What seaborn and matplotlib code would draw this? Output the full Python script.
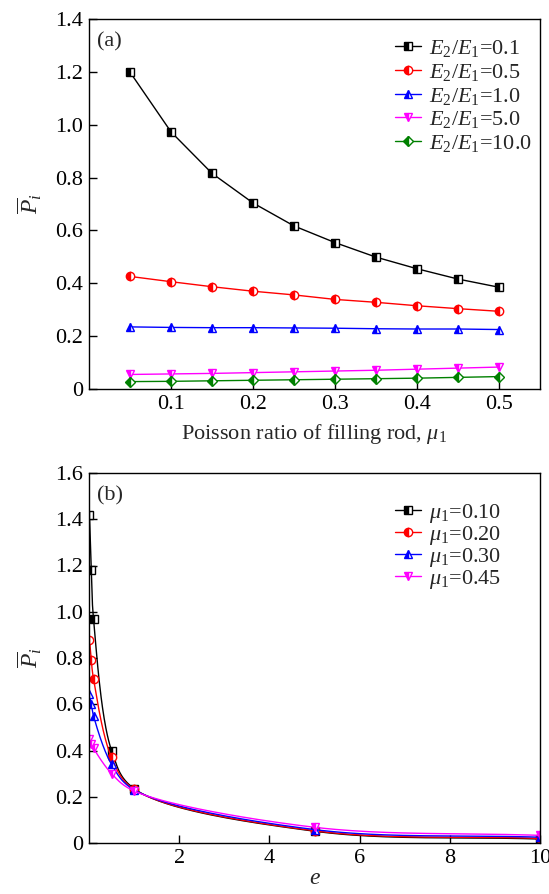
import numpy as np
import matplotlib
matplotlib.use("Agg")
import matplotlib.pyplot as plt
from matplotlib.lines import Line2D
from matplotlib.ticker import FuncFormatter
import seaborn as sns

# ---- data: panel (a), pressure vs Poisson ratio of the filling rod ----
mu1 = [0.05, 0.10, 0.15, 0.20, 0.25, 0.30, 0.35, 0.40, 0.45, 0.50]
p_e01 = [1.199, 0.973, 0.816, 0.704, 0.617, 0.554, 0.499, 0.455, 0.416, 0.385]
p_e05 = [0.426, 0.406, 0.387, 0.370, 0.356, 0.339, 0.328, 0.315, 0.304, 0.294]
p_e10 = [0.235, 0.233, 0.232, 0.232, 0.231, 0.230, 0.228, 0.227, 0.227, 0.225]
p_e50 = [0.055, 0.057, 0.059, 0.062, 0.065, 0.068, 0.071, 0.075, 0.079, 0.083]
p_e100 = [0.028, 0.029, 0.031, 0.033, 0.035, 0.037, 0.039, 0.041, 0.044, 0.047]
labels_a = [r"$E_2/E_1$=0.1", r"$E_2/E_1$=0.5", r"$E_2/E_1$=1.0",
            r"$E_2/E_1$=5.0", r"$E_2/E_1$=10.0"]

# ---- data: panel (b), pressure vs e ----
e_vals = [0.01, 0.05, 0.1, 0.5, 1.0, 5.0, 10.0]
p_mu010 = [1.42, 1.18, 0.97, 0.40, 0.235, 0.051, 0.017]
p_mu020 = [0.88, 0.79, 0.71, 0.37, 0.232, 0.053, 0.020]
p_mu030 = [0.645, 0.60, 0.55, 0.34, 0.230, 0.058, 0.025]
p_mu045 = [0.45, 0.43, 0.41, 0.30, 0.225, 0.068, 0.033]
labels_b = [r"$\mu_1$=0.10", r"$\mu_1$=0.20", r"$\mu_1$=0.30", r"$\mu_1$=0.45"]

ticks_a_x = [0.1, 0.2, 0.3, 0.4, 0.5]
ticks_a_y = [0, 0.2, 0.4, 0.6, 0.8, 1.0, 1.2, 1.4]
ticks_b_x = [2, 4, 6, 8, 10]
ticks_b_y = [0, 0.2, 0.4, 0.6, 0.8, 1.0, 1.2, 1.4, 1.6]

colors = ["#000000", "#ff0000", "#0000ff", "#ff00ff", "#008000"]
markers = ["s", "o", "^", "v", "D"]
msizes = [5.5, 6, 6, 6, 5.5]

sns.set_theme(style="ticks")
plt.rcParams.update({
    "font.family": ["Liberation Serif", "DejaVu Serif"],
    "mathtext.fontset": "custom",
    "mathtext.rm": "Liberation Serif",
    "mathtext.it": "Liberation Serif:italic",
    "mathtext.bf": "Liberation Serif:bold",
    "font.size": 16,
    "axes.linewidth": 1.0,
    "axes.edgecolor": "black",
    "xtick.direction": "in",
    "ytick.direction": "in",
    "xtick.major.size": 6,
    "ytick.major.size": 6,
    "xtick.color": "black",
    "ytick.color": "black",
})

W, H = 549, 894
AX_W, AX_H = 451, 370


def smooth_curve(x, y, xspan, yspan, n=40, alpha=0.5):
    """Centripetal Catmull-Rom curve through the points, built in screen units."""
    sx, sy = AX_W / xspan, AX_H / yspan
    P = np.column_stack([np.asarray(x, float) * sx, np.asarray(y, float) * sy])
    P = np.vstack([2 * P[0] - P[1], P, 2 * P[-1] - P[-2]])
    out = []
    for i in range(1, len(P) - 2):
        p0, p1, p2, p3 = P[i - 1], P[i], P[i + 1], P[i + 2]
        t0 = 0.0
        t1 = t0 + np.linalg.norm(p1 - p0) ** alpha
        t2 = t1 + np.linalg.norm(p2 - p1) ** alpha
        t3 = t2 + np.linalg.norm(p3 - p2) ** alpha
        t = np.linspace(t1, t2, n, endpoint=False)[:, None]
        a1 = (t1 - t) / (t1 - t0) * p0 + (t - t0) / (t1 - t0) * p1
        a2 = (t2 - t) / (t2 - t1) * p1 + (t - t1) / (t2 - t1) * p2
        a3 = (t3 - t) / (t3 - t2) * p2 + (t - t2) / (t3 - t2) * p3
        b1 = (t2 - t) / (t2 - t0) * a1 + (t - t0) / (t2 - t0) * a2
        b2 = (t3 - t) / (t3 - t1) * a2 + (t - t1) / (t3 - t1) * a3
        out.append((t2 - t) / (t2 - t1) * b1 + (t - t1) / (t2 - t1) * b2)
    out.append(P[-2][None, :])
    pts = np.vstack(out)
    return pts[:, 0] / sx, pts[:, 1] / sy


def marker_style(i):
    return dict(marker=markers[i], markersize=msizes[i], fillstyle="left",
                markerfacecolor=colors[i], markerfacecoloralt="white",
                markeredgecolor=colors[i], markeredgewidth=1.0)


def num_fmt(v, pos):
    return "0" if abs(v) < 1e-9 else f"{v:.1f}"


fig = plt.figure(figsize=(5.49, 8.94), dpi=100)
ax_a = fig.add_axes([89 / W, 1 - 389 / H, AX_W / W, AX_H / H])
ax_b = fig.add_axes([89 / W, 1 - 843 / H, AX_W / W, AX_H / H])

legend_kw = dict(loc="upper left", frameon=False, fontsize=16,
                 handlelength=1.15, handletextpad=0.4, borderpad=0.0,
                 borderaxespad=0.0)

# ---- panel (a) ----
series_a = [p_e01, p_e05, p_e10, p_e50, p_e100]
for i, vals in enumerate(series_a):
    sns.lineplot(x=mu1, y=vals, ax=ax_a, color=colors[i], linewidth=1.0,
                 label=labels_a[i], **marker_style(i))

ax_a.set_xlim(0, 0.55)
ax_a.set_ylim(0, 1.4)
ax_a.set_xticks(ticks_a_x)
ax_a.set_yticks(ticks_a_y)
ax_a.yaxis.set_major_formatter(FuncFormatter(num_fmt))
ax_a.set_xlabel(r"Poisson ratio of filling rod, $\mu_1$", fontsize=16, labelpad=6)
ax_a.set_ylabel(r"$\overline{P}_i$", fontsize=17, labelpad=8)
ax_a.text(0.018, 0.965, "(a)", transform=ax_a.transAxes, fontsize=16,
          ha="left", va="top")
ax_a.legend(bbox_to_anchor=(306 / AX_W, 0.948), labelspacing=0.12, **legend_kw)

# ---- panel (b) ----
series_b = [p_mu010, p_mu020, p_mu030, p_mu045]
handles_b = []
for i, vals in enumerate(series_b):
    xs, ys = smooth_curve(e_vals, vals, 10.0, 1.6)
    sns.lineplot(x=xs, y=ys, ax=ax_b, color=colors[i], linewidth=1.0,
                 sort=False, estimator=None)
    sns.lineplot(x=e_vals, y=vals, ax=ax_b, color=colors[i], linestyle="none",
                 sort=False, estimator=None, **marker_style(i))
    handles_b.append(Line2D([], [], color=colors[i], linewidth=1.0,
                            **marker_style(i)))

ax_b.set_xlim(0, 10)
ax_b.set_ylim(0, 1.6)
ax_b.set_xticks(ticks_b_x)
ax_b.set_yticks(ticks_b_y)
ax_b.yaxis.set_major_formatter(FuncFormatter(num_fmt))
ax_b.set_xlabel(r"$e$", fontsize=17, labelpad=0)
ax_b.set_ylabel(r"$\overline{P}_i$", fontsize=17, labelpad=8)
ax_b.text(0.018, 0.965, "(b)", transform=ax_b.transAxes, fontsize=16,
          ha="left", va="top")
ax_b.legend(handles_b, labels_b, bbox_to_anchor=(306 / AX_W, 0.921),
            labelspacing=-0.05, **legend_kw)

for ax in (ax_a, ax_b):
    ax.tick_params(top=False, right=False, labelsize=16, width=1.0, pad=4)
    for s in ax.spines.values():
        s.set_visible(True)
        s.set_color("black")

fig.savefig("out.png", dpi=100)
